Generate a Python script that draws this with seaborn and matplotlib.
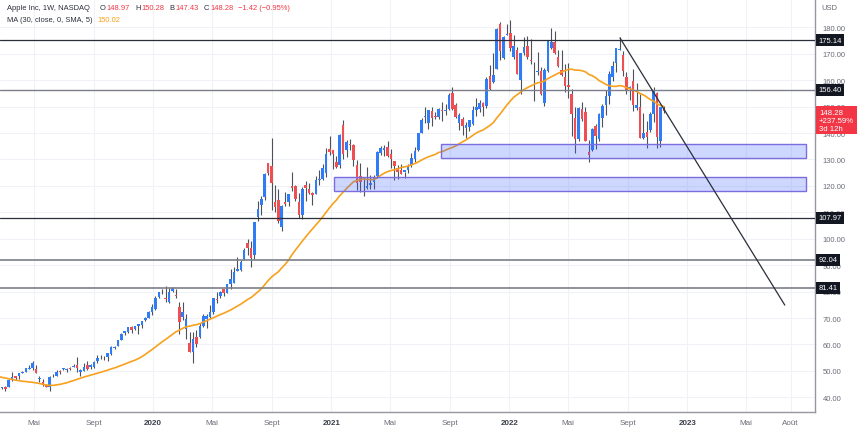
import numpy as np
import pandas as pd
import matplotlib
matplotlib.use("Agg")
import matplotlib.pyplot as plt
import matplotlib.dates as mdates
from matplotlib.patches import Rectangle
from matplotlib.transforms import offset_copy
import seaborn as sns

# ---------------- data (Apple Inc, weekly, USD) ----------------
# closes of the 29 weeks before the first visible bar (MA warm-up)
prior_closes = [52.00, 51.88, 54.40, 54.04, 56.91, 55.33, 55.96, 54.42, 56.44, 56.07,
                55.53, 54.83, 54.08, 51.87, 51.12, 48.38, 43.07, 44.65, 42.12, 41.37,
                37.68, 39.06, 37.06, 38.07, 39.21, 39.44, 41.63, 42.60, 42.61]

last_bar = "2022-11-14"

open_2019 = [42.43, 43.54, 43.92, 43.87, 46.48, 47.88, 47.91, 49.11, 49.65, 50.71, 51.10,
             50.85, 46.93, 45.88, 44.73, 43.90, 47.95, 48.18, 49.92, 50.79, 50.20, 51.02,
             51.42, 52.12, 49.50, 49.90, 52.37, 51.47, 51.61, 53.71, 54.43, 54.74, 55.23,
             56.57, 58.73, 59.38, 61.86, 64.33, 64.58, 66.64, 65.68, 66.82, 67.50, 69.25,
             70.13, 72.36]
high_2019 = [43.33, 44.00, 44.44, 46.83, 49.42, 48.22, 49.27, 50.03, 51.04, 52.12, 53.83,
             52.21, 48.12, 47.00, 45.15, 48.00, 49.00, 50.15, 50.39, 51.27, 51.10, 51.63,
             52.43, 55.34, 50.63, 53.03, 53.61, 52.61, 53.60, 55.93, 55.94, 55.62, 56.95,
             59.41, 59.53, 61.68, 64.46, 65.11, 66.45, 66.86, 67.00, 67.75, 68.83, 70.20,
             72.50, 75.15]
low_2019 = [42.37, 43.29, 42.38, 43.84, 46.18, 46.64, 47.10, 49.05, 49.50, 50.53, 50.25,
            49.07, 45.71, 44.45, 43.75, 42.57, 47.68, 48.04, 48.82, 50.34, 49.60, 50.39,
            51.33, 49.60, 48.15, 49.82, 50.25, 50.83, 51.05, 53.13, 54.37, 54.29, 53.78,
            56.08, 58.29, 59.33, 61.59, 63.53, 64.52, 64.21, 65.63, 64.07, 66.23, 68.86,
            70.09, 71.31]
close_2019 = [43.24, 43.74, 43.23, 46.53, 47.76, 47.49, 49.25, 49.72, 50.97, 51.08, 52.94,
              49.30, 47.25, 44.74, 43.77, 47.54, 48.22, 49.70, 49.48, 51.06, 50.83, 50.65,
              51.94, 51.01, 50.25, 51.63, 50.66, 52.19, 53.31, 54.69, 54.43, 54.71, 56.75,
              59.05, 59.10, 61.65, 63.96, 65.03, 66.44, 65.45, 66.81, 67.68, 68.79, 69.86,
              72.45, 74.36]

open_2020 = [73.45, 77.91, 79.30, 77.51, 76.07, 80.23, 78.84, 74.32, 70.57, 65.94, 60.49,
             57.02, 62.69, 62.73, 67.08, 69.49, 70.45, 72.29, 77.04, 78.29, 80.88, 79.44,
             83.03, 83.31, 87.84, 88.31, 92.50, 98.35, 96.42, 93.71, 108.20, 112.60, 115.98,
             128.70, 127.58, 113.95, 114.72, 104.54, 114.01, 113.91, 120.06, 119.96, 114.01,
             109.11, 120.50, 118.92, 117.18, 116.97, 122.31, 122.60, 125.02, 133.99]
high_2020 = [78.17, 80.00, 80.83, 81.96, 81.31, 81.81, 81.16, 76.04, 76.00, 71.61, 64.77,
             64.56, 65.62, 67.93, 71.58, 71.66, 74.75, 77.59, 79.92, 80.22, 81.06, 82.94,
             88.69, 89.14, 93.10, 91.84, 96.32, 99.96, 99.25, 106.42, 114.41, 116.04, 124.87,
             128.79, 137.98, 120.50, 119.00, 112.86, 117.72, 117.00, 125.39, 120.42, 117.28,
             119.62, 121.99, 120.99, 117.62, 123.78, 125.95, 128.37, 134.41, 138.79]
low_2020 = [73.19, 77.39, 78.91, 76.22, 75.56, 79.91, 77.63, 64.09, 69.43, 62.00, 57.00,
            53.15, 59.22, 62.35, 66.58, 66.36, 69.99, 71.58, 75.80, 77.58, 78.27, 79.30,
            80.84, 83.15, 87.75, 87.82, 92.06, 93.88, 89.14, 92.47, 106.55, 109.11, 114.74,
            123.94, 110.89, 110.00, 106.09, 103.10, 112.22, 112.25, 118.15, 114.28, 107.72,
            107.32, 114.13, 116.81, 112.59, 116.81, 120.15, 122.06, 123.45, 131.72]
close_2020 = [77.58, 79.68, 79.58, 77.38, 80.01, 81.24, 78.26, 68.34, 72.26, 69.49, 57.31,
              61.94, 60.35, 67.00, 70.70, 70.74, 72.27, 77.53, 76.93, 79.72, 79.49, 82.88,
              84.70, 87.43, 88.41, 91.03, 95.92, 96.33, 92.62, 106.26, 111.11, 114.91, 124.37,
              124.81, 120.96, 112.00, 106.84, 112.28, 113.02, 116.97, 119.02, 115.04, 108.86,
              118.69, 119.26, 117.34, 116.59, 122.25, 122.41, 126.66, 131.97, 132.69]

open_2021 = [133.52, 129.19, 127.78, 143.07, 133.75, 136.03, 135.49, 128.01, 123.75, 120.93,
             119.03, 120.33, 121.65, 123.87, 132.52, 133.51, 134.83, 132.04, 129.41, 126.82,
             126.01, 125.08, 126.17, 127.82, 130.30, 133.41, 140.07, 146.21, 143.75, 148.27,
             146.36, 146.20, 148.54, 148.31, 149.00, 154.97, 150.63, 143.80, 145.47, 141.76,
             142.27, 143.45, 148.68, 148.99, 151.41, 150.37, 161.68, 159.37, 164.29, 181.12,
             168.28, 177.09]
high_2021 = [133.61, 131.45, 139.67, 145.09, 137.42, 137.88, 136.01, 129.72, 128.72, 123.21,
             127.22, 124.24, 124.18, 133.04, 135.00, 135.53, 137.07, 134.07, 129.54, 127.89,
             128.32, 125.35, 128.46, 132.55, 134.64, 140.00, 145.65, 150.00, 148.72, 149.83,
             148.04, 149.44, 151.68, 150.86, 155.11, 157.26, 151.42, 147.47, 145.96, 144.22,
             144.90, 150.18, 153.17, 152.39, 151.57, 161.02, 165.70, 170.30, 179.63, 182.13,
             176.85, 181.33]
low_2021 = [126.38, 126.86, 126.94, 130.21, 130.93, 133.69, 127.41, 118.39, 117.57, 116.21,
            119.00, 118.92, 118.86, 123.07, 131.65, 131.30, 131.07, 126.70, 122.25, 122.77,
            124.64, 123.13, 124.83, 127.07, 129.21, 133.35, 140.07, 143.63, 141.67, 142.54,
            145.18, 145.30, 144.50, 146.83, 148.61, 148.70, 145.76, 141.27, 139.11, 138.27,
            140.70, 143.16, 146.41, 147.80, 146.48, 149.34, 156.36, 159.04, 164.28, 167.46,
            167.92, 177.07]
close_2021 = [132.05, 127.14, 139.07, 131.96, 136.76, 135.37, 129.87, 121.26, 121.42, 121.03,
              119.99, 121.21, 123.00, 133.00, 134.16, 134.32, 131.46, 130.21, 127.45, 125.43,
              124.61, 125.89, 127.35, 130.46, 133.11, 139.96, 145.11, 146.39, 148.56, 145.86,
              146.14, 149.10, 148.19, 148.60, 154.30, 148.97, 146.06, 146.92, 142.65, 142.90,
              144.84, 148.69, 149.80, 151.28, 149.99, 160.55, 156.81, 161.84, 179.45, 171.14,
              176.28, 177.57]

open_2022 = [177.83, 168.71, 171.51, 160.02, 170.16, 172.86, 167.37, 164.98, 163.06, 163.36,
             151.45, 163.51, 172.17, 174.57, 168.71, 163.92, 161.12, 158.15, 154.93, 145.55,
             137.79, 149.07, 147.83, 132.87, 133.42, 142.70, 137.77, 145.67, 150.74, 154.01,
             161.01, 166.37, 171.52, 169.69, 161.15, 156.47, 159.59, 149.31, 149.66, 138.21,
             140.42, 141.07, 147.19, 155.08, 137.11, 148.97]
high_2022 = [182.94, 177.18, 172.54, 170.35, 176.24, 176.65, 175.48, 166.69, 170.70, 165.02,
             164.48, 175.28, 179.61, 178.49, 171.27, 171.53, 166.20, 166.48, 156.74, 149.77,
             149.68, 151.74, 149.87, 137.34, 141.91, 143.49, 147.55, 150.86, 156.28, 163.63,
             167.19, 172.17, 176.15, 171.05, 162.90, 157.82, 164.26, 158.74, 154.72, 147.54,
             144.52, 147.85, 157.50, 155.45, 150.01, 150.28]
low_2022 = [171.03, 168.17, 162.30, 154.70, 169.51, 168.04, 166.19, 152.00, 161.96, 154.50,
            150.10, 163.01, 171.94, 169.85, 164.91, 161.50, 155.38, 153.27, 138.80, 132.61,
            137.14, 144.46, 137.06, 129.04, 133.32, 133.77, 136.93, 142.12, 146.70, 150.80,
            159.63, 163.25, 171.31, 161.41, 154.67, 152.68, 148.37, 148.56, 138.00, 137.69,
            134.37, 140.27, 144.35, 134.38, 134.59, 147.43]
close_2022 = [172.17, 173.07, 162.41, 170.33, 172.39, 168.64, 167.30, 164.85, 163.17, 154.73,
              163.98, 174.72, 174.31, 170.09, 165.29, 161.79, 157.65, 157.28, 147.11, 137.59,
              149.64, 145.38, 137.13, 131.56, 141.66, 138.93, 147.04, 150.17, 154.09, 162.51,
              165.35, 172.10, 171.52, 163.62, 155.81, 157.37, 150.70, 150.43, 138.20, 140.09,
              138.38, 147.27, 155.74, 138.38, 149.70, 148.28]

ma_length = 30

# horizontal levels drawn on the chart
levels = [175.14, 156.40, 107.97, 92.04, 81.41]
# support zones
zone_start = ["2021-08-13", "2021-01-07"]
zone_end = ["2023-09-02", "2023-09-02"]
zone_low = [130.43, 117.95]
zone_high = [135.66, 123.25]
# trend line
trend_dates = ["2022-08-16", "2023-07-20"]
trend_prices = [175.95, 74.9]

# axis ticks
price_ticks = [40, 50, 60, 70, 80, 90, 100, 110, 120, 130, 140, 150, 160, 170, 180]
date_ticks = ["2019-05-01", "2019-09-01", "2020-01-01", "2020-05-01", "2020-09-01",
              "2021-01-01", "2021-05-01", "2021-09-01", "2022-01-01", "2022-05-01",
              "2022-09-01", "2023-01-01", "2023-05-01", "2023-08-01"]
date_labels = ["Mai", "Sept", "2020", "Mai", "Sept", "2021", "Mai", "Sept", "2022", "Mai",
               "Sept", "2023", "Mai", "Août"]
view_dates = ["2019-02-21", "2023-09-20"]
view_prices = [34.33, 190.71]

pct_label = "+237.59%"
countdown_label = "3d 12h"

# ---------------- build frame ----------------
opens = open_2019 + open_2020 + open_2021 + open_2022
highs = high_2019 + high_2020 + high_2021 + high_2022
lows = low_2019 + low_2020 + low_2021 + low_2022
closes = close_2019 + close_2020 + close_2021 + close_2022
dates = pd.date_range(end=last_bar, periods=len(closes), freq="W-MON")
df = pd.DataFrame({"date": dates, "open": opens, "high": highs, "low": lows, "close": closes})
all_close = pd.Series(prior_closes + closes, dtype=float)
df["ma"] = all_close.rolling(ma_length).mean().iloc[len(prior_closes):].to_numpy()

# ---------------- style ----------------
sns.set_theme(style="white")
plt.rcParams["font.family"] = ["Liberation Sans", "DejaVu Sans"]

UP = "#2f7cf6"
DOWN = "#ef4f52"
WICK = "#4d515b"
TXT = "#2a2e39"
GRAYTXT = "#6a6d78"
GRID = "#eff2f7"

W, H = 865, 435
fig = plt.figure(figsize=(W / 100, H / 100), dpi=100)
fig.patch.set_facecolor("white")
ax = fig.add_axes([0, 21.7 / H, 815 / W, 413.3 / H])
ax.set_facecolor("white")

# grid
ax.set_yticks(price_ticks)
ax.set_xticks(pd.to_datetime(date_ticks))
ax.grid(True, color=GRID, lw=0.8, zorder=0)

# candles
up = df["close"] >= df["open"]
colors = np.where(up, UP, DOWN)
body_lo = np.minimum(df["open"], df["close"])
body_h = np.maximum(np.abs(df["close"] - df["open"]), 0.25)
ax.vlines(df["date"], df["low"], df["high"], colors=WICK, lw=0.8, zorder=3)
ax.bar(df["date"], body_h, bottom=body_lo, width=5.3, color=colors, lw=0, zorder=4)

# moving average via seaborn
sns.lineplot(data=df, x="date", y="ma", ax=ax, color="#f7a11c", lw=1.2, zorder=5)

# horizontal levels
level_colors = ["#2a2e39", "#7c7f89", "#2a2e39", "#7c7f89", "#7c7f89"]
level_widths = [0.9, 1.0, 0.9, 1.2, 1.2]
for lvl, c, lw in zip(levels, level_colors, level_widths):
    ax.axhline(lvl, color=c, lw=lw, zorder=6)

# zones
for s, e, lo, hi in zip(zone_start, zone_end, zone_low, zone_high):
    x0 = mdates.date2num(pd.Timestamp(s))
    x1 = mdates.date2num(pd.Timestamp(e))
    ax.add_patch(Rectangle((x0, lo), x1 - x0, hi - lo, facecolor=(0.24, 0.38, 1.0, 0.25),
                           edgecolor="#7b6de0", lw=1.0, zorder=7))

# trend line
ax.plot(pd.to_datetime(trend_dates), trend_prices, color="#2a2e39", lw=0.9, zorder=8)

# limits
ax.set_xlim(pd.to_datetime(view_dates[0]), pd.to_datetime(view_dates[1]))
ax.set_ylim(view_prices[0], view_prices[1])
ax.set_xlabel("")
ax.set_ylabel("")

# axes look
for side in ["left", "top"]:
    ax.spines[side].set_visible(False)
for side in ["right", "bottom"]:
    ax.spines[side].set_visible(True)
    ax.spines[side].set_color("#9598a1")
    ax.spines[side].set_linewidth(1.0)

ax.yaxis.tick_right()
ax.set_yticklabels([f"{v:.2f}" for v in price_ticks])
ax.tick_params(axis="y", length=0, pad=5.5, labelsize=5.5, labelcolor=GRAYTXT)
ax.set_xticklabels(date_labels)
ax.tick_params(axis="x", length=0, pad=4.5, labelsize=5.8, labelcolor=GRAYTXT)
for lab in ax.get_xticklabels():
    if lab.get_text().isdigit():
        lab.set_fontweight("bold")
        lab.set_color("#3b3f4a")

# level labels on the price scale (they cover the tick labels, as in the original)
ytrans = ax.get_yaxis_transform()
for lvl in levels:
    ax.text(1 + 3.5 / 815, lvl, f"{lvl:.2f}", transform=ytrans, ha="left", va="center",
            fontsize=5.5, color="white", clip_on=False, zorder=20,
            bbox=dict(boxstyle="square,pad=0.32", fc="#131722", ec="none"))

# last price label
last_close = df["close"].iloc[-1]
ax.text(1 + 4 / 815, last_close, f"{last_close:.2f}\n{pct_label}\n{countdown_label}",
        transform=offset_copy(ytrans, fig=fig, x=0, y=2.0, units="dots"),
        ha="left", va="top", fontsize=5.6, color="white", linespacing=1.15,
        clip_on=False, zorder=21,
        bbox=dict(boxstyle="square,pad=0.35", fc="#f23645", ec="none"))

fig.text(821 / W, 1 - 8.3 / H, "USD", ha="left", va="center", fontsize=5.5, color=GRAYTXT)

# header legend
renderer = fig.canvas.get_renderer()
chg = df["close"].iloc[-1] - df["close"].iloc[-2]
chg_pct = chg / df["close"].iloc[-2] * 100
RED = "#f23645"
line1 = [("Apple Inc, 1W, NASDAQ", TXT, 0), ("O", TXT, 10), (f"{df['open'].iloc[-1]:.2f}", RED, 1),
         ("H", TXT, 5), (f"{df['high'].iloc[-1]:.2f}", RED, 1),
         ("B", TXT, 5), (f"{df['low'].iloc[-1]:.2f}", RED, 1),
         ("C", TXT, 5), (f"{df['close'].iloc[-1]:.2f}", RED, 1),
         (f"\u2212{abs(chg):.2f} (\u2212{abs(chg_pct):.2f}%)", RED, 5)]
line2 = [(f"MA ({ma_length}, close, 0, SMA, 5)", TXT, 0), (f"{df['ma'].iloc[-1]:.2f}", "#f7a11c", 5)]
for segs, ypx in [(line1, 9.0), (line2, 20.7)]:
    x = 7.0
    for txt, col, gap in segs:
        x += gap
        t = fig.text(x / W, 1 - ypx / H, txt, ha="left", va="center", fontsize=5.4, color=col)
        bb = t.get_window_extent(renderer=renderer)
        x += bb.width

fig.savefig("out.png", dpi=100, facecolor="white")
